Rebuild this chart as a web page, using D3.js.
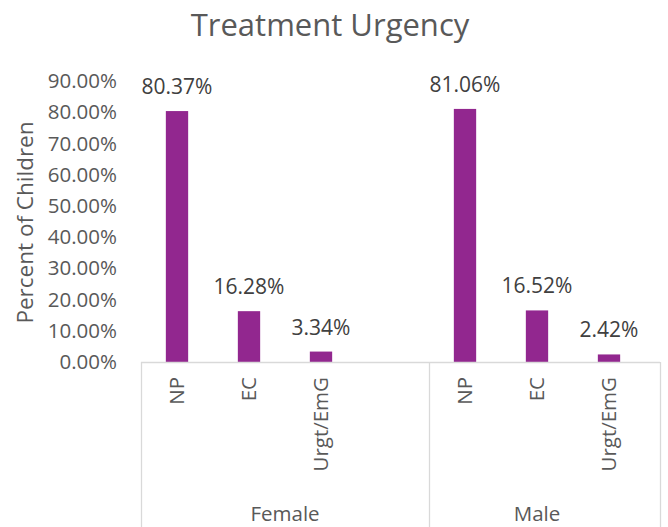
<!DOCTYPE html>
<html>
<head>
<meta charset="utf-8">
<script src="https://cdn.jsdelivr.net/npm/d3@7"></script>
<style>
  html, body { margin: 0; padding: 0; background: #fff; }
  svg { display: block; font-family: "Open Sans", sans-serif; }
</style>
</head>
<body>
<svg id="chart" width="668" height="527"></svg>
<script>
const title = "Treatment Urgency";
const yTitle = "Percent of Children";
const groups = ["Female", "Male"];
const categories = ["NP", "EC", "Urgt/EmG"];
const femaleValues = [0.8037, 0.1628, 0.0334];
const maleValues = [0.8106, 0.1652, 0.0242];
const yTicks = [0, 0.1, 0.2, 0.3, 0.4, 0.5, 0.6, 0.7, 0.8, 0.9];

const seriesByGroup = { Female: femaleValues, Male: maleValues };
// Female group has an extra empty slot in the source chart
const slotsPerGroup = { Female: 4, Male: 4 };
const shownSlots = { Female: 4, Male: 3 };

const W = 668, H = 527;
const plot = { left: 141, right: 660, top: 81, bottom: 362 };
const textColor = "#595959";
const lineColor = "#d9d9d9";
const barColor = "#92278f";

const svg = d3.select("#chart");

const slots = [];
const rows = [];
groups.forEach(g => {
  for (let i = 0; i < slotsPerGroup[g]; i++) {
    const key = g + "|" + i;
    slots.push(key);
    if (i < categories.length) rows.push({ group: g, cat: categories[i], value: seriesByGroup[g][i], key });
  }
});

const slotW = 72;
const x = d3.scaleBand().domain(slots).range([plot.left, plot.left + slotW * slots.length]);
const y = d3.scaleLinear().domain([0, 0.9]).range([plot.bottom, plot.top]);
const barW = x.bandwidth() * 0.31;

// title
svg.append("text")
  .attr("x", 330).attr("y", 36)
  .attr("text-anchor", "middle")
  .attr("fill", textColor)
  .style("font-size", "31px")
  .text(title);

// y axis
const yAxis = d3.axisLeft(y).tickValues(yTicks).tickFormat(d3.format(".2%")).tickSize(0).tickPadding(0);
const gy = svg.append("g").attr("transform", `translate(117,0)`).call(yAxis);
gy.select(".domain").remove();
gy.selectAll("text").attr("fill", textColor).style("font-size", "20.5px").style("font-family", "'Open Sans', sans-serif");

// y title
svg.append("text")
  .attr("transform", `translate(33,${(115 + 330) / 2}) rotate(-90)`)
  .attr("text-anchor", "middle")
  .attr("fill", textColor)
  .style("font-size", "22.5px")
  .text(yTitle);

// bars
svg.append("g").selectAll("rect").data(rows).join("rect")
  .attr("x", d => x(d.key) + (x.bandwidth() - barW) / 2)
  .attr("width", barW)
  .attr("y", d => y(d.value))
  .attr("height", d => y(0) - y(d.value))
  .attr("fill", barColor);

// data labels
svg.append("g").selectAll("text").data(rows).join("text")
  .attr("x", d => x(d.key) + x.bandwidth() / 2)
  .attr("y", d => y(d.value) - 17)
  .attr("text-anchor", "middle")
  .attr("fill", "#404040")
  .style("font-size", "21px")
  .text(d => d3.format(".2%")(d.value));

// axis frame lines
const frame = svg.append("g").attr("stroke", lineColor).attr("stroke-width", 1.3).attr("fill", "none");
frame.append("line").attr("x1", plot.left).attr("x2", plot.right).attr("y1", plot.bottom + 0.5).attr("y2", plot.bottom + 0.5);
const dividers = [plot.left, x(groups[1] + "|0"), plot.right];
dividers.forEach(v => {
  frame.append("line").attr("x1", v + 0.5).attr("x2", v + 0.5).attr("y1", plot.bottom).attr("y2", H);
});

// category labels (rotated)
svg.append("g").selectAll("text").data(rows).join("text")
  .attr("transform", d => `translate(${x(d.key) + x.bandwidth() / 2},377) rotate(-90)`)
  .attr("text-anchor", "end")
  .attr("dy", "0.35em")
  .attr("fill", textColor)
  .style("font-size", "20.5px")
  .text(d => d.cat);

// group labels
groups.forEach(g => {
  const first = x(g + "|0");
  const last = x(g + "|" + (shownSlots[g] - 1)) + x.bandwidth();
  svg.append("text")
    .attr("x", (first + last) / 2)
    .attr("y", 521)
    .attr("text-anchor", "middle")
    .attr("fill", textColor)
    .style("font-size", "20.5px")
    .text(g);
});
</script>
</body>
</html>
